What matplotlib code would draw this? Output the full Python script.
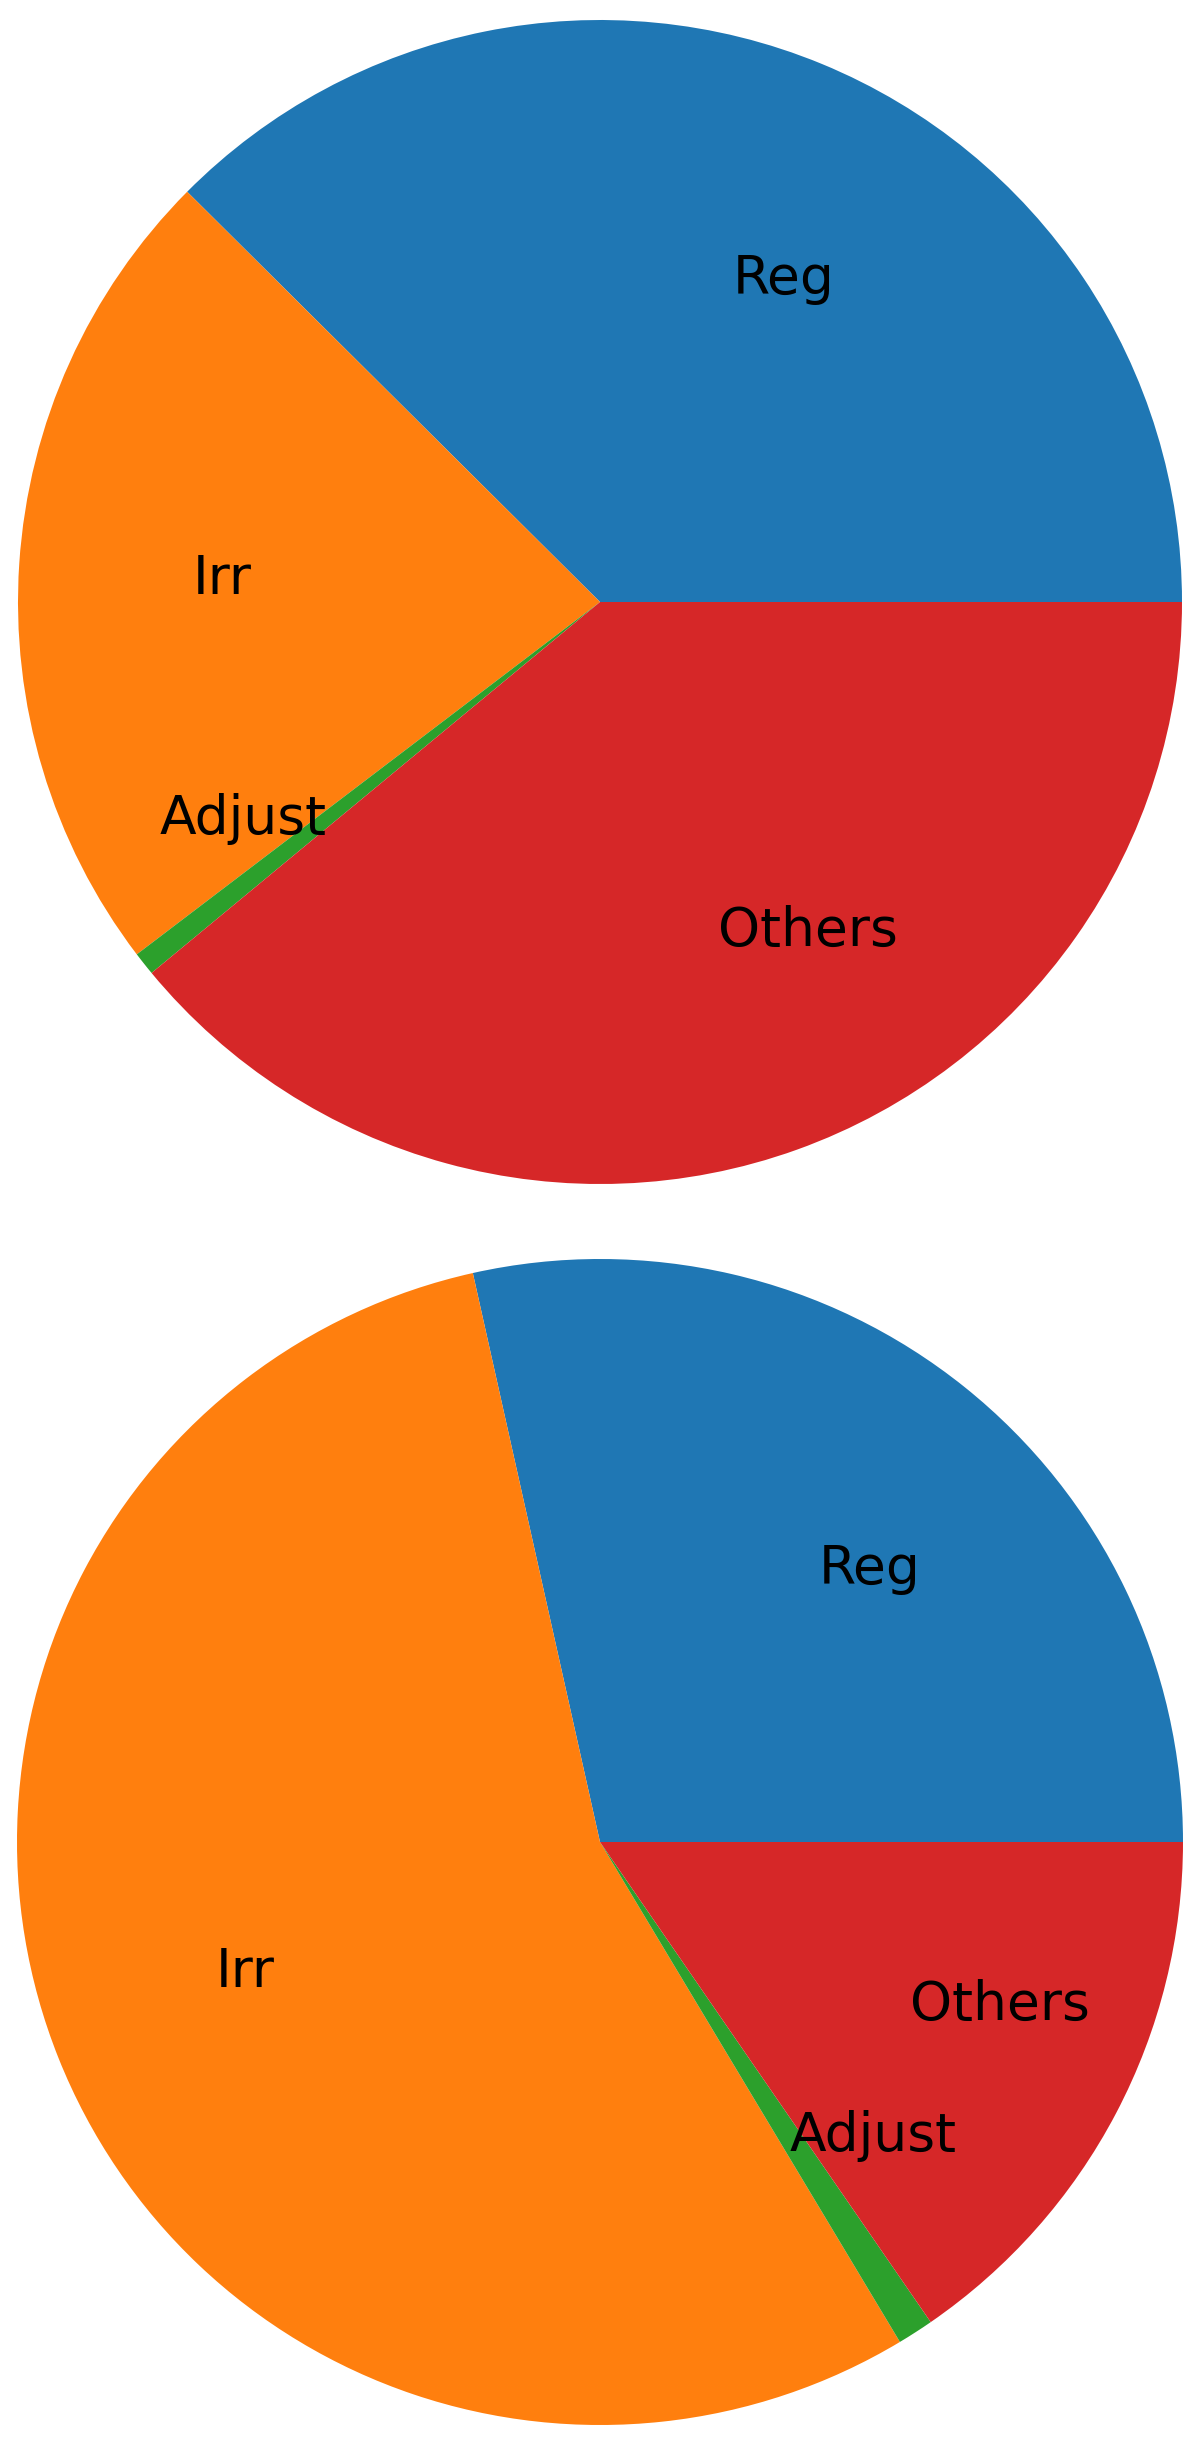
import matplotlib
matplotlib.use("Agg")
import matplotlib.pyplot as plt

# shares (percent)
labels = ["Reg", "Irr", "Adjust", "Others"]
top_shares = [37.55, 22.8, 0.65, 39.0]
bottom_shares = [28.5, 55.1, 1.0, 15.4]
colors = ["#1f77b4", "#ff7f0e", "#2ca02c", "#d62728"]

W, H = 1200, 2439
fig = plt.figure(figsize=(W / 100, H / 100), dpi=100)


def pie_axes(cx, cy, r):
    # cx, cy, r in pixels measured from the top-left corner
    return fig.add_axes([(cx - r) / W, (H - cy - r) / H, 2 * r / W, 2 * r / H])


for (cx, cy, r), shares in [((600, 602, 582), top_shares),
                            ((600, 1842, 583), bottom_shares)]:
    ax = pie_axes(cx, cy, r)
    ax.pie(shares, labels=labels, colors=colors, labeldistance=0.6,
           textprops={"fontsize": 38.5})
    ax.set_xlim(-1, 1)
    ax.set_ylim(-1, 1)
    ax.set_aspect("auto")
    ax.axis("off")

fig.savefig("out.png", dpi=100)
